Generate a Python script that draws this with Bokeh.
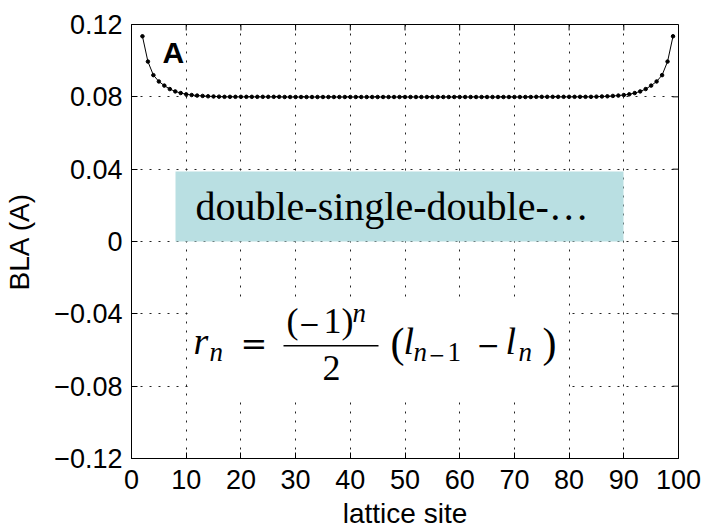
from bokeh.plotting import figure
from bokeh.models import Range1d, FixedTicker, Label, BoxAnnotation
from bokeh.embed import file_html
from bokeh.resources import INLINE

# ---------------- data ----------------
sites = list(range(2, 100))
bla = [0.1135, 0.0995, 0.0920, 0.0885, 0.0862, 0.0843, 0.0830, 0.0821, 0.0814, 0.0810,
       0.0807, 0.0805, 0.0803, 0.0802, 0.0801, 0.0800, 0.0800, 0.0800, 0.0800, 0.0800,
       0.0800, 0.0800, 0.0800, 0.0800, 0.0800, 0.0800, 0.0799, 0.0799, 0.0799, 0.0799,
       0.0799, 0.0799, 0.0799, 0.0799, 0.0799, 0.0799, 0.0799, 0.0799, 0.0799, 0.0799,
       0.0799, 0.0799, 0.0799, 0.0799, 0.0799, 0.0799, 0.0799, 0.0799, 0.0799,
       0.0799, 0.0799, 0.0799, 0.0799, 0.0799, 0.0799, 0.0799, 0.0799, 0.0799, 0.0799,
       0.0799, 0.0799, 0.0799, 0.0799, 0.0799, 0.0799, 0.0799, 0.0799, 0.0799, 0.0799,
       0.0799, 0.0799, 0.0799, 0.0800, 0.0800, 0.0800, 0.0800, 0.0800, 0.0800, 0.0800,
       0.0800, 0.0800, 0.0800, 0.0800, 0.0801, 0.0802, 0.0803, 0.0805, 0.0807, 0.0810,
       0.0814, 0.0821, 0.0830, 0.0843, 0.0862, 0.0885, 0.0920, 0.0995, 0.1135]

x_ticks = [0, 10, 20, 30, 40, 50, 60, 70, 80, 90, 100]
x_tick_labels = ["0", "10", "20", "30", "40", "50", "60", "70", "80", "90", "100"]
y_ticks = [-0.12, -0.08, -0.04, 0, 0.04, 0.08, 0.12]
y_tick_labels = ["\u22120.12", "\u22120.08", "\u22120.04", "0", "0.04", "0.08", "0.12"]

x_title = "lattice site"
y_title = "BLA (A)"
panel_tag = "A"
pattern_text = "double-single-double-\u2026"

X0, X1 = 0, 100
Y0, Y1 = -0.12, 0.12

# ---------------- figure ----------------
p = figure(width=708, height=531, output_backend="svg", toolbar_location=None,
           x_range=Range1d(X0, X1), y_range=Range1d(Y0, Y1),
           min_border_left=131, min_border_right=30, min_border_top=24,
           min_border_bottom=70)
p.background_fill_color = "white"
p.border_fill_color = "white"
p.outline_line_color = "black"
p.outline_line_width = 1

xt = FixedTicker(ticks=x_ticks)
yt = FixedTicker(ticks=y_ticks)

sans = "Liberation Sans"
for ax in (p.xaxis[0], p.yaxis[0]):
    ax.axis_line_color = "black"
    ax.major_tick_line_color = "black"
    ax.major_tick_in = 6
    ax.major_tick_out = 0
    ax.minor_tick_line_color = None
    ax.major_label_text_font = sans
    ax.major_label_text_font_size = "27px"
    ax.major_label_text_color = "black"
    ax.axis_label_text_font = sans
    ax.axis_label_text_font_size = "28px"
    ax.axis_label_text_font_style = "normal"
    ax.axis_label_text_color = "black"

p.xaxis[0].ticker = xt
p.xaxis[0].major_label_overrides = dict(zip(x_ticks, x_tick_labels))
p.xaxis[0].axis_label = x_title
p.xaxis[0].major_label_standoff = 11
p.xaxis[0].axis_label_standoff = 6

p.yaxis[0].ticker = yt
p.yaxis[0].major_label_overrides = dict(zip(y_ticks, y_tick_labels))
p.yaxis[0].axis_label = y_title
p.yaxis[0].major_label_standoff = 9
p.yaxis[0].axis_label_standoff = 16

p.xgrid.ticker = xt
p.ygrid.ticker = yt
for g in (p.xgrid, p.ygrid):
    g.grid_line_color = "#222222"
    g.grid_line_dash = "2 7"
    g.grid_line_width = 1

# top / right inward tick marks (MATLAB box), from the tick arrays
tick_dy = 6 / 1821.0
tick_dx = 6 / 5.47
p.segment(x0=x_ticks, x1=x_ticks, y0=[Y1] * len(x_ticks), y1=[Y1 - tick_dy] * len(x_ticks),
          line_color="black", line_width=1)
p.segment(x0=[X1] * len(y_ticks), x1=[X1 - tick_dx] * len(y_ticks), y0=y_ticks, y1=y_ticks,
          line_color="black", line_width=1)

# ---------------- data marks ----------------
p.line(sites, bla, line_color="black", line_width=1)
p.scatter(sites, bla, marker="circle", size=3.5, fill_color="black", line_color="black")

# ---------------- annotations ----------------
def sx(px):
    return (px - 131) / 5.47

def sy(py):
    return 0.12 - (py - 24) / 1821.0

def lab(text, px, base, fs, font, style="normal", align="left"):
    # place a text by its baseline (pixel coords of the reference picture)
    p.add_layout(Label(x=sx(px), y=sy(base - 0.37 * fs), text=text, text_font=font,
                       text_font_size=f"{fs}px", text_font_style=style,
                       text_baseline="alphabetic", text_align=align,
                       text_color="black"))

lab(panel_tag, 162, 63, 30, sans, "bold")

p.add_layout(BoxAnnotation(left=sx(175), right=sx(623), bottom=sy(242.5), top=sy(172),
                           fill_color="#b9dfe2", fill_alpha=1.0, line_color=None))
lab(pattern_text, 195, 222, 40, "Liberation Serif")

p.add_layout(BoxAnnotation(left=sx(188), right=sx(567), bottom=sy(398), top=sy(300),
                           fill_color="white", fill_alpha=1.0, line_color=None))

serif = "Liberation Serif"
dv = "DejaVu Serif"
formula = [
    # text, px, baseline, size, font, style
    ("r", 193, 357, 38, serif, "italic"),
    ("n", 209, 364, 27, serif, "italic"),
    ("=", 240, 358, 32, dv, "normal"),
    ("(", 286, 336, 36, serif, "normal"),
    ("\u2212", 298, 335, 26, dv, "normal"),
    ("1", 323, 336, 36, serif, "normal"),
    (")", 341, 336, 36, serif, "normal"),
    ("n", 352, 325, 27, serif, "italic"),
    ("2", 322, 383, 36, serif, "normal"),
    ("(", 390, 360, 42, serif, "normal"),
    ("l", 403, 357, 38, serif, "italic"),
    ("n", 413, 364, 27, serif, "italic"),
    ("\u2212", 428, 364, 20, dv, "normal"),
    ("1", 447, 364, 27, serif, "normal"),
    ("\u2212", 476, 357, 28, dv, "normal"),
    ("l", 505, 357, 38, serif, "italic"),
    ("n", 518, 364, 27, serif, "italic"),
    (")", 542, 360, 42, serif, "normal"),
]
for t, px, base, fs, font, st in formula:
    lab(t, px, base, fs, font, st)

# fraction bar
p.add_layout(BoxAnnotation(left=sx(283), right=sx(378), bottom=sy(348.3), top=sy(346.8),
                           fill_color="black", fill_alpha=1.0, line_color=None))

open("out.html", "w").write(file_html(p, INLINE))
